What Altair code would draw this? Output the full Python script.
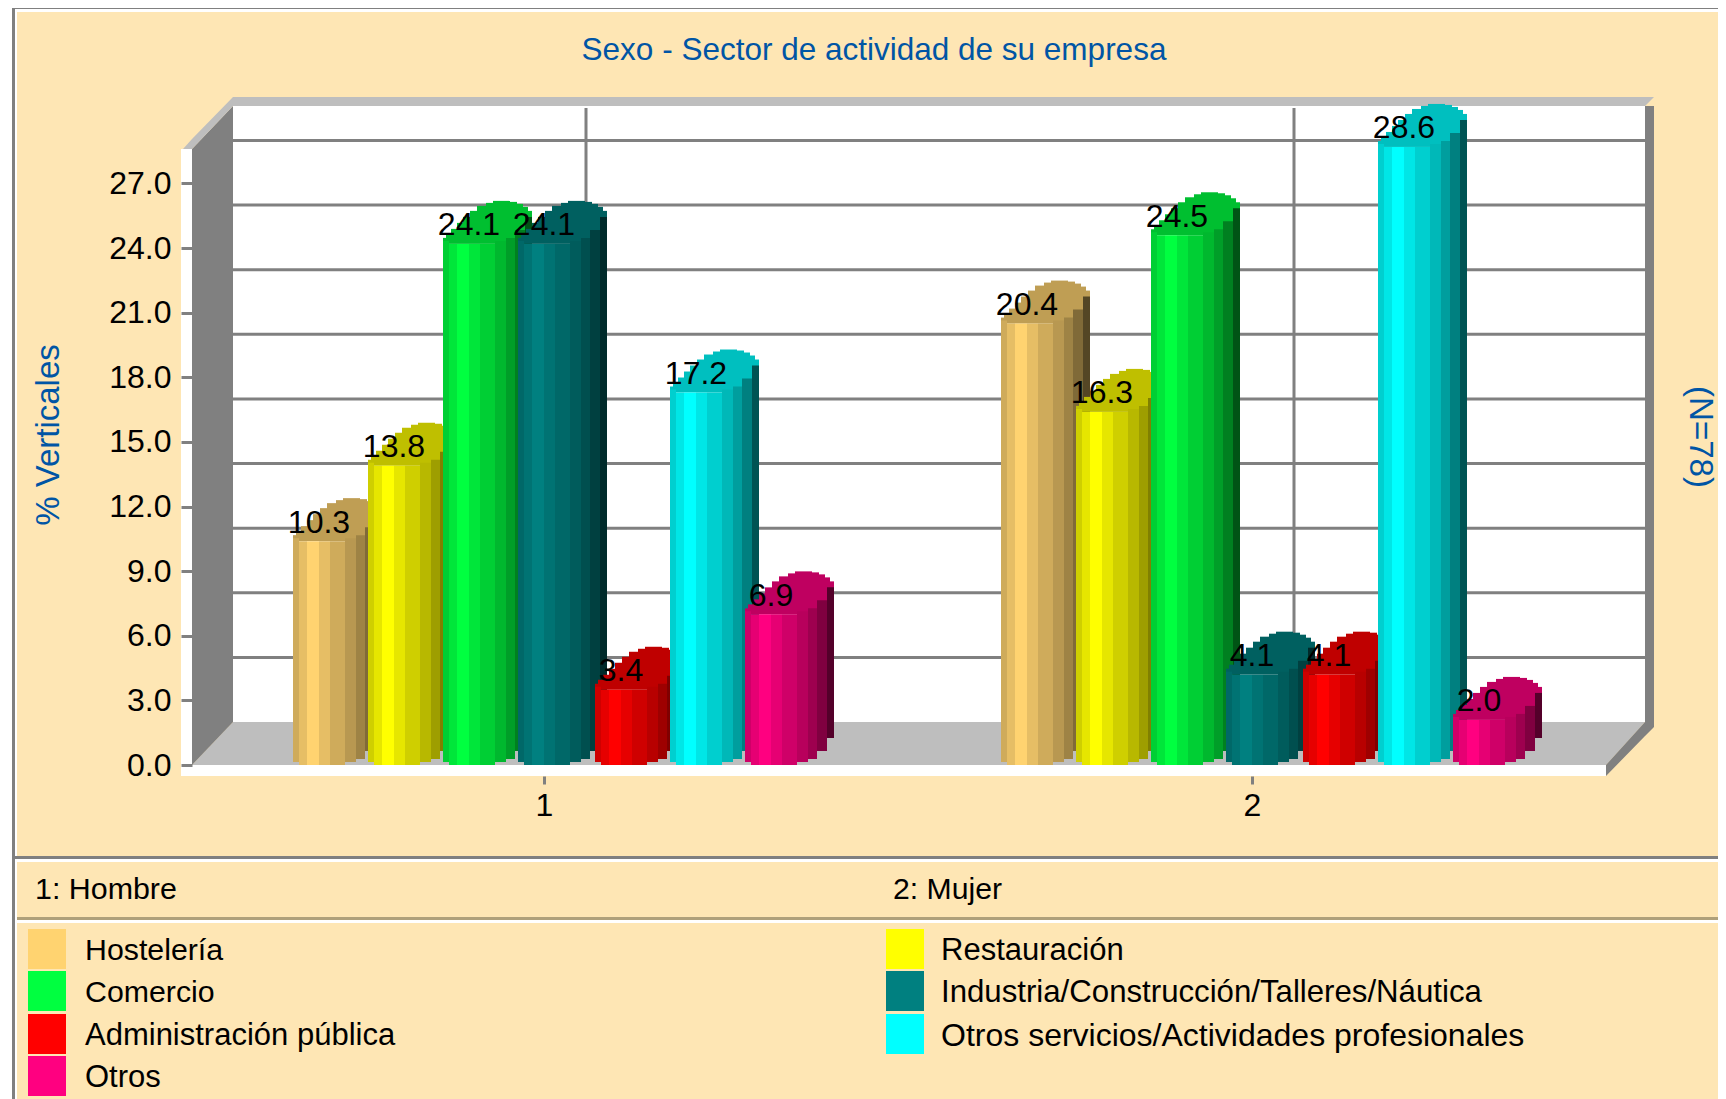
import altair as alt

SEXOS = [1, 2]
SECTORES = ["Hostelería", "Restauración", "Comercio",
            "Industria/Construcción/Talleres/Náutica", "Administración pública",
            "Otros servicios/Actividades profesionales", "Otros"]
COLORES = ["#FFD370", "#FFFF00", "#00FF40", "#008080", "#FF0000", "#00FFFF", "#FF0080"]
HOMBRE = [10.3, 13.8, 24.1, 24.1, 3.4, 17.2, 6.9]
MUJER = [20.4, 16.3, 24.5, 4.1, 4.1, 28.6, 2.0]
TICKS = [0, 3, 6, 9, 12, 15, 18, 21, 24, 27]
LEGEND_SIZES = [30.3, 31, 30.3, 31.2, 31, 32, 31]

FILL = "#FEE6B4"
GREY = "#808080"
LIGHT = "#BEBEBE"
BLUE = "#0055A5"
FONT = "Liberation Sans"

W, H = 1710, 1091
RIGHT = 8 + W
PX_X = 708.0      # pixels per x unit (one group)
PX_Y = 21.54      # pixels per percentage point
X0, Y0 = 544.0, 765.0  # page position of group 1 and of 0 %


def ux(px):
    return 1 + (px - X0) / PX_X


def uy(px):
    return (Y0 - px) / PX_Y


xs = alt.Scale(domain=[ux(8), ux(8 + W)], range=[0, W], nice=False, zero=False)
ys = alt.Scale(domain=[uy(8 + H), uy(8)], range=[H, 0], nice=False, zero=False)
one = alt.Data(values=[{"a": 1}])

AX = alt.Axis(values=SEXOS, format="d", orient="bottom", offset=-(1099 - 776),
              domain=False, grid=False, tickSize=8, tickWidth=3, tickColor=GREY,
              labelFont=FONT, labelFontSize=32, labelColor="black", labelPadding=6,
              labelOverlap=False, zindex=1)
AY = alt.Axis(values=TICKS, format=".1f", orient="left", offset=-(192 - 8),
              domain=False, grid=False, tickSize=11, tickWidth=3, tickColor=GREY,
              labelFont=FONT, labelFontSize=32, labelColor="black", labelPadding=10,
              labelOverlap=False, zindex=1)


def rect(x0, y0, x1, y1, color):
    return alt.Chart(one).mark_rect(color=color).encode(
        x=alt.value(x0 - 8), x2=alt.value(x1 - 8),
        y=alt.value(y0 - 8), y2=alt.value(y1 - 8))


def text(s, x, y, size=31, color="black", angle=0, align="left"):
    return alt.Chart(one).mark_text(
        text=s, font=FONT, fontSize=size, color=color, angle=angle, align=align,
        baseline="middle").encode(x=alt.value(x - 8), y=alt.value(y - 8))


def area(rows, color):
    vals = [{"x": ux(a), "y": uy(b), "y2": uy(c)} for a, b, c in rows]
    return alt.Chart(alt.Data(values=vals)).mark_area(color=color, line=False).encode(
        x=alt.X("x:Q", scale=xs, axis=AX, title=None),
        y=alt.Y("y:Q", scale=ys, axis=AY, title=None),
        y2="y2:Q")


def shade(hex_color, f):
    r, g, b = (int(hex_color[i:i + 2], 16) for i in (1, 3, 5))
    return "#%02X%02X%02X" % (round(r * f), round(g * f), round(b * f))


# cross-section of a column: (from px, to px, lift px, shade)
BODY = [(0, 6, 3, .81), (6, 14, 0, .90), (14, 26, 0, 1.0), (26, 37, 0, .90), (37, 52, 0, .81),
        (52, 63, 3, .72), (63, 72, 6, .62), (72, 82, 14, .50), (82, 89, 27, .33)]
# top cap outline: (from px, to px, upper lift px)
CAP = [(0, 3, 6), (3, 8, 10), (8, 14, 15), (14, 20, 21), (20, 27, 27), (27, 34, 33), (34, 43, 38),
       (43, 50, 41), (50, 67, 43), (67, 74, 42), (74, 80, 40), (80, 85, 37), (85, 89, 33)]
CENTER_DX = 26
STEP = 75.0
GAP_AFTER_4TH = 2.0
TOP_LIP = 2.0

strips, labels = [], []
for g, serie in zip(SEXOS, [HOMBRE, MUJER]):
    for i, (v, c) in enumerate(zip(serie, COLORES)):
        cx = g + ((i - 3) * STEP + (GAP_AFTER_4TH if i > 3 else 0)) / PX_X
        labels.append({"x": cx, "v": v, "t": f"{v:.1f}"})
        top = v + TOP_LIP / PX_Y
        for a, b, up in CAP:
            strips.append({"x": cx + (a - CENTER_DX) / PX_X, "x2": cx + (b - CENTER_DX) / PX_X,
                           "y": top, "y2": top + up / PX_Y, "c": shade(c, .75)})
        for a, b, lift, f in BODY:
            strips.append({"x": cx + (a - CENTER_DX) / PX_X, "x2": cx + (b - CENTER_DX) / PX_X,
                           "y": lift / PX_Y, "y2": top + lift / PX_Y, "c": shade(c, f)})

layers = [
    # frame and panels
    rect(12, 8, 15, 1099, GREY),
    rect(12, 8, RIGHT, 9, GREY),
    rect(17, 12, RIGHT, 856, FILL),
    rect(15, 856, RIGHT, 859, GREY),
    rect(17, 862, RIGHT, 917, FILL),
    rect(17, 917, RIGHT, 920, "#AFA07A"),
    rect(17, 923, RIGHT, 1099, FILL),
    # back wall
    rect(233, 106, 1645, 722, "white"),
]

grid = alt.Chart(alt.Data(values=[{"v": t} for t in TICKS[1:]])).mark_rule(
    color=GREY, strokeWidth=3, yOffset=-43).encode(
    x=alt.value(233 - 8), x2=alt.value(1645 - 8),
    y=alt.Y("v:Q", scale=ys, axis=AY, title=None))
vgrid = alt.Chart(alt.Data(values=[{"g": s} for s in SEXOS])).mark_rule(
    color=GREY, strokeWidth=3, xOffset=42).encode(
    x=alt.X("g:Q", scale=xs, axis=AX, title=None),
    y=alt.value(108 - 8), y2=alt.value(722 - 8))
layers += [grid, vgrid]

layers += [
    area([(192, 765, 765), (233, 722, 765), (1606, 722, 765), (1645, 722, 722)], LIGHT),
    rect(181, 149, 192, 776, "white"),
    rect(181, 765, 1606, 776, "white"),
    area([(192, 149, 765), (233, 106, 722)], GREY),
    area([(183, 149, 149), (192, 139, 149), (233, 97, 106), (1645, 97, 106), (1654, 97, 97)], LIGHT),
    area([(1606, 765, 776), (1645, 722, 736), (1654, 727, 727)], GREY),
    rect(1645, 106, 1654, 727, GREY),
]

bars = alt.Chart(alt.Data(values=strips)).mark_rect().encode(
    x=alt.X("x:Q", scale=xs, title=None, axis=AX),
    x2="x2:Q",
    y=alt.Y("y:Q", scale=ys, title=None, axis=AY),
    y2="y2:Q",
    color=alt.Color("c:N", scale=None, legend=None))
layers.append(bars)

vals = alt.Chart(alt.Data(values=labels)).mark_text(
    font=FONT, fontSize=32, color="black", baseline="alphabetic", align="center", dy=-10.5).encode(
    x=alt.X("x:Q", scale=xs, axis=AX, title=None),
    y=alt.Y("v:Q", scale=ys, axis=AY, title=None),
    text="t:N")
layers.append(vals)

layers += [
    text("Sexo - Sector de actividad de su empresa", 874, 51, 31.5, BLUE, align="center"),
    text("% Verticales", 49, 435, 33, BLUE, angle=270, align="center"),
    text("(N=78)", 1700, 437, 33, BLUE, angle=90, align="center"),
    text("1: Hombre", 35, 890, 30.4),
    text("2: Mujer", 893, 890, 30.2),
]

ROW_Y = [929, 971, 1014, 1056]
for i, (name, col, size) in enumerate(zip(SECTORES, COLORES, LEGEND_SIZES)):
    row = ROW_Y[i // 2]
    sx, tx = (28, 85) if i % 2 == 0 else (886, 941)
    layers.append(rect(sx, row, sx + 38, row + 40, col))
    layers.append(text(name, tx, row + 22, size))

chart = alt.layer(*layers).properties(
    width=W, height=H, padding=0, autosize="none", background="white"
).configure_view(stroke=None)

chart.save("out.html", embed_options={"renderer": "svg", "actions": False})
